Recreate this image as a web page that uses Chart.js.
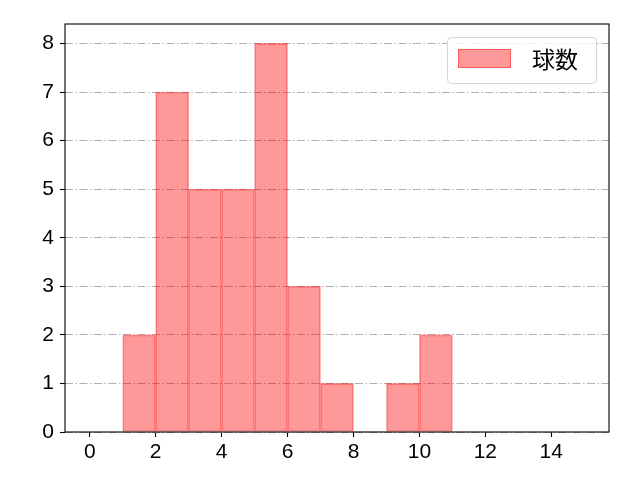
<!DOCTYPE html>
<html><head><meta charset="utf-8">
<script src="https://cdn.jsdelivr.net/npm/chart.js@4"></script>
<style>html,body{margin:0;padding:0;background:#fff}canvas{display:block}</style>
</head><body>
<canvas id="c" width="640" height="480"></canvas>
<script>
const seriesLabel = "球数";
const binStarts = [1, 2, 3, 4, 5, 6, 7, 8, 9, 10];
const counts = [2, 7, 5, 5, 8, 3, 1, 0, 1, 2];
const xTicks = [0, 2, 4, 6, 8, 10, 12, 14];
const yTicks = [0, 1, 2, 3, 4, 5, 6, 7, 8];

const TICKFONT = "'Liberation Sans', Arial, sans-serif";
const CJKFONT = "'Noto Sans CJK JP', sans-serif";
const points = binStarts.map((s, i) => ({ x: s + 0.5, y: counts[i] }));

const framePlugin = {
  id: 'frame',
  afterDraw(chart) {
    const { ctx, chartArea: a } = chart;
    ctx.save();
    ctx.strokeStyle = '#000';
    ctx.lineWidth = 1.1;
    ctx.strokeRect(a.left, a.top, a.right - a.left, a.bottom - a.top);
    // legend
    const lx = 447, ly = 37, lw = 149, lh = 46, r = 4;
    ctx.beginPath();
    ctx.roundRect(lx + 0.5, ly + 0.5, lw, lh, r);
    ctx.fillStyle = 'rgba(255,255,255,0.8)';
    ctx.fill();
    ctx.strokeStyle = '#d5d5d5';
    ctx.lineWidth = 1;
    ctx.stroke();
    ctx.fillStyle = 'rgba(255,0,0,0.4)';
    ctx.fillRect(458, 49, 53, 19);
    ctx.strokeStyle = 'rgba(255,0,0,0.4)';
    ctx.strokeRect(458.5, 49.5, 52, 18);
    ctx.fillStyle = '#000';
    ctx.font = '23px ' + CJKFONT;
    ctx.textBaseline = 'middle';
    ctx.textAlign = 'left';
    ctx.fillText(chart.data.datasets[0].label, 532, 59);
    ctx.restore();
  }
};

new Chart(document.getElementById('c'), {
  type: 'bar',
  data: {
    datasets: [{
      label: seriesLabel,
      data: points,
      backgroundColor: 'rgba(255,0,0,0.4)',
      borderColor: 'rgba(255,0,0,0.4)',
      borderWidth: ctx => (ctx.raw && ctx.raw.y ? 1 : 0),
      borderSkipped: false,
      barPercentage: 1,
      categoryPercentage: 1
    }]
  },
  options: {
    responsive: false,
    animation: false,
    devicePixelRatio: 1,
    layout: { padding: { left: 0, top: 24, right: 31, bottom: 0 } },
    plugins: { legend: { display: false }, tooltip: { enabled: false } },
    scales: {
      x: {
        type: 'linear',
        offset: false,
        min: -0.75,
        max: 15.75,
        afterBuildTicks: s => { s.ticks = xTicks.map(v => ({ value: v })); },
        afterFit: s => { s.height = 48; },
        grid: { offset: false, drawOnChartArea: false, drawTicks: true, tickLength: 5, tickColor: '#000', tickWidth: 1.1 },
        border: { display: false },
        ticks: { color: '#000', font: { size: 21, family: TICKFONT }, padding: 3, maxRotation: 0, autoSkip: false }
      },
      y: {
        type: 'linear',
        min: 0,
        max: 8.4,
        z: 1,
        afterBuildTicks: s => { s.ticks = yTicks.map(v => ({ value: v })); },
        afterFit: s => { s.width = 65; },
        grid: { color: '#b0b0b0', lineWidth: 1, tickLength: 5, tickColor: '#000', tickWidth: 1.1, tickBorderDash: [] },
        border: { display: false, dash: [8, 2.5, 1.5, 2.5] },
        ticks: { color: '#000', font: { size: 21, family: TICKFONT }, padding: 6, autoSkip: false }
      }
    }
  },
  plugins: [framePlugin]
});
</script>
</body></html>
